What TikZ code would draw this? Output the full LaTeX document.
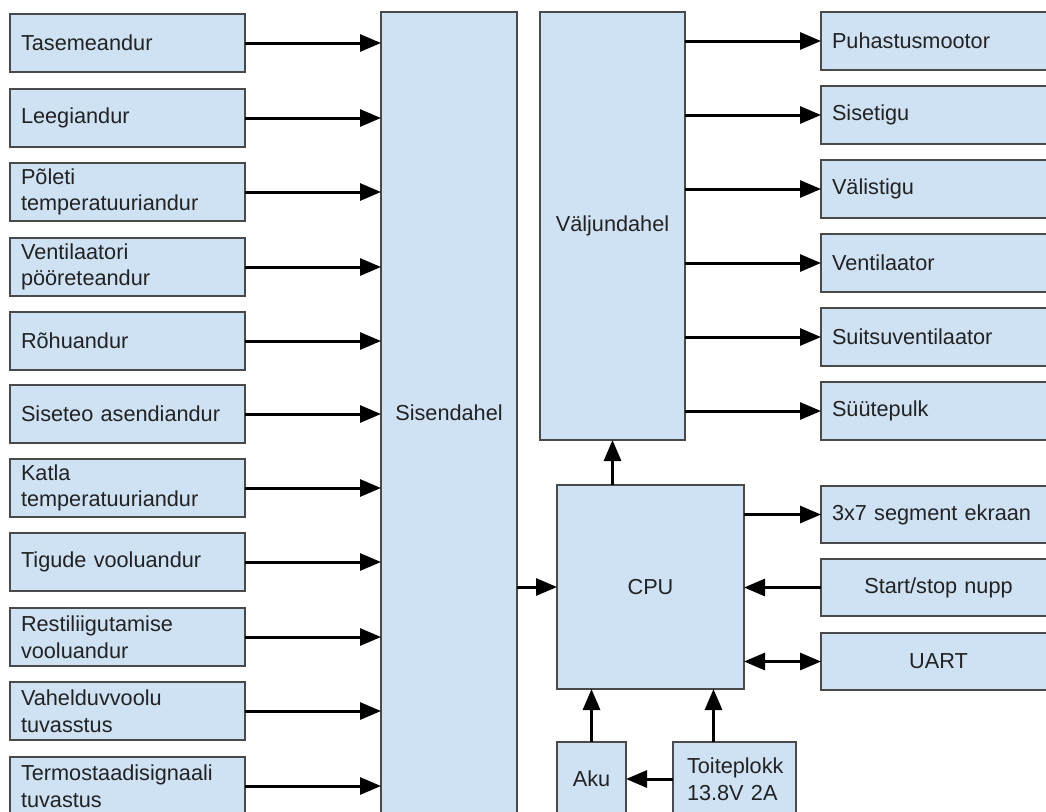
\documentclass[tikz,border=0pt]{standalone}
\usepackage{fontspec}
\setmainfont{Liberation Sans}
\usetikzlibrary{arrows.meta}
\definecolor{boxfill}{HTML}{CFE2F3}
\definecolor{boxline}{HTML}{4A4A4A}
\definecolor{txt}{HTML}{222222}
\begin{document}
\begin{tikzpicture}[x=1pt,y=-1pt,
  box/.style={draw=boxline, line width=1.1pt, fill=boxfill, anchor=north west,
    inner xsep=11pt, inner ysep=0pt, outer sep=0pt,
    font=\fontsize{21.7pt}{26.5pt}\selectfont, text=txt},
  lbox/.style={box, minimum width=235pt, minimum height=58pt, text width=213pt, align=left},
  rbox/.style={box, minimum width=235pt, minimum height=58pt, text width=213pt, align=left},
  cbox/.style={box, minimum width=235pt, minimum height=57pt, text width=213pt, align=center},
  bigbox/.style={box, align=center},
  arr/.style={line width=3pt, -{Triangle[length=21pt,width=17pt]}},
  darr/.style={line width=3pt, {Triangle[length=21pt,width=17pt]}-{Triangle[length=21pt,width=17pt]}}
]
\useasboundingbox (0,0) rectangle (1046,811);
\fill[white] (0,0) rectangle (1046,811);

% left inputs
\node[lbox] (l1) at (10,14) {Tasemeandur};
\node[lbox] (l2) at (10,89) {Leegiandur};
\node[lbox] (l3) at (10,163) {Põleti\\temperatuuriandur};
\node[lbox] (l4) at (10,238) {Ventilaatori\\pööreteandur};
\node[lbox] (l5) at (10,312) {Rõhuandur};
\node[lbox] (l6) at (10,385) {Siseteo asendiandur};
\node[lbox] (l7) at (10,459) {Katla\\temperatuuriandur};
\node[lbox] (l8) at (10,533) {Tigude vooluandur};
\node[lbox] (l9) at (10,608) {Restiliigutamise\\vooluandur};
\node[lbox] (l10) at (10,682) {Vahelduvvoolu\\tuvasstus};
\node[lbox] (l11) at (10,757) {Termostaadisignaali\\tuvastus};

% central blocks
\node[bigbox, minimum width=136pt, minimum height=802pt] (sin) at (381,12) {Sisendahel};
\node[bigbox, minimum width=145pt, minimum height=428pt] (vout) at (540,12) {Väljundahel};
\node[bigbox, minimum width=187pt, minimum height=204pt] (cpu) at (557,485) {CPU};
\node[bigbox, inner xsep=0pt, minimum width=69pt, minimum height=74pt] (aku) at (557,742) {Aku};
\node[box, minimum width=123pt, minimum height=74pt, inner xsep=14pt, text width=95pt, align=left] (toite) at (673,742) {Toiteplokk\\13.8V 2A};
\coordinate (toitetop) at ([xshift=-21pt]toite.north);

% right outputs
\node[rbox] (r1) at (821,12) {Puhastusmootor};
\node[rbox] (r2) at (821,86) {Sisetigu};
\node[rbox] (r3) at (821,160) {Välistigu};
\node[rbox] (r4) at (821,234) {Ventilaator};
\node[rbox] (r5) at (821,308) {Suitsuventilaator};
\node[rbox] (r6) at (821,382) {Süütepulk};

\node[rbox, minimum height=57pt] (seg) at (821,486) {3x7 segment ekraan};
\node[cbox] (ss) at (821,559) {Start/stop nupp};
\node[cbox] (uart) at (821,633) {UART};

% input arrows
\foreach \i in {1,...,11}
  \draw[arr] (l\i.east) -- (sin.west |- l\i.east);

% output arrows
\foreach \i in {1,...,6}
  \draw[arr] (vout.east |- r\i.west) -- (r\i.west);

\draw[arr] (sin.east |- cpu.west) -- (cpu.west);
\draw[arr] (cpu.north -| vout.south) -- (vout.south);
\draw[arr] (cpu.east |- seg.west) -- (seg.west);
\draw[arr] (ss.west) -- (cpu.east |- ss.west);
\draw[darr] (cpu.east |- uart.west) -- (uart.west);
\draw[arr] (aku.north) -- (cpu.south -| aku.north);
\draw[arr] (toitetop) -- (cpu.south -| toitetop);
\draw[arr] (toite.west |- aku.east) -- (aku.east);
\end{tikzpicture}
\end{document}
